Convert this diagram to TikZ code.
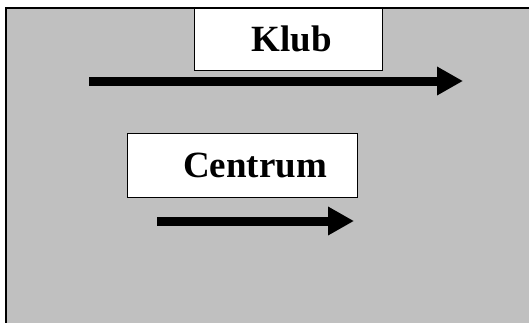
\documentclass[tikz,border=0pt]{standalone}
\usepackage{fontspec}
\setmainfont{Liberation Serif}
\usetikzlibrary{arrows.meta}
\definecolor{panelgray}{RGB}{192,192,192}
\begin{document}
\begin{tikzpicture}[x=1pt,y=1pt]
\tikzset{signbox/.style={draw,fill=white,line width=1pt,inner sep=0pt},
  signtext/.style={font=\fontsize{37}{40}\selectfont\bfseries},
  bigarrow/.style={line width=9pt,-{Triangle[length=26pt,width=27pt]}}}
\useasboundingbox (0,0) rectangle (529,-322);
\draw[fill=panelgray,line width=1.5pt] (6,-8) rectangle (545,-340);
\node [signbox,minimum width=188pt,minimum height=62pt,
  label={[signtext,xshift=4pt]center:Klub}] (klub) at (288,-39) {};
\node [signbox,minimum width=230pt,minimum height=64pt,
  label={[signtext,xshift=13pt]center:Centrum}] (centrum) at (242,-165) {};
\coordinate (k1) at (89,-81);
\coordinate (k2) at (463,-81);
\coordinate (c1) at (157,-221);
\coordinate (c2) at (354,-221);
\draw[bigarrow] (k1) -- (k2);
\draw[bigarrow] (c1) -- (c2);
\end{tikzpicture}
\end{document}
